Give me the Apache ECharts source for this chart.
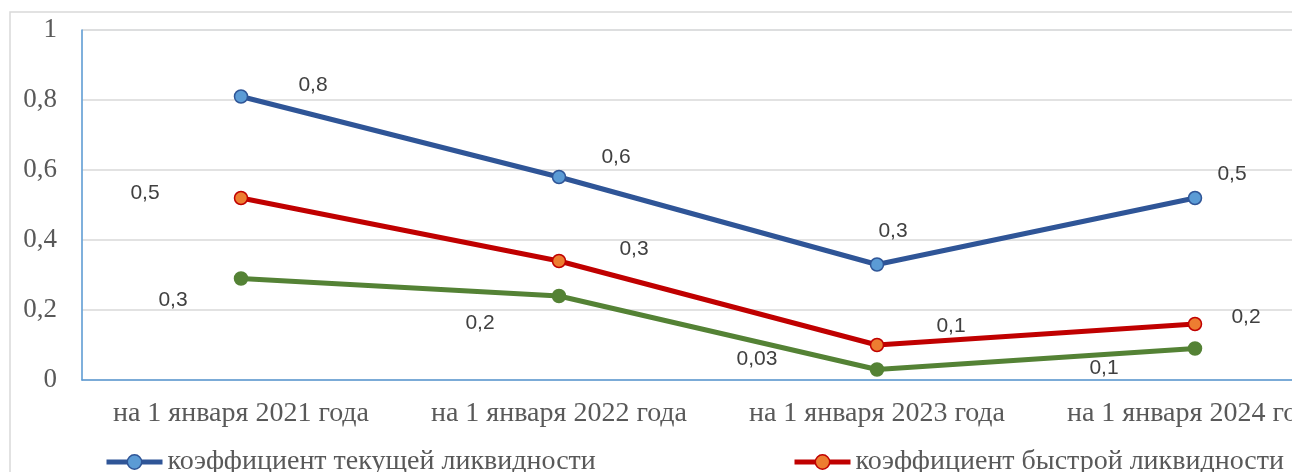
<!DOCTYPE html>
<html><head><meta charset="utf-8">
<script src="https://cdn.jsdelivr.net/npm/echarts@6/dist/echarts.min.js"></script>
<style>html,body{margin:0;padding:0;background:#fff;overflow:hidden}#c{width:1420px;height:472px}</style>
</head><body><div id="c"></div>
<script>
const categories = ['на 1 января 2021 года','на 1 января 2022 года','на 1 января 2023 года','на 1 января 2024 года'];
const seriesNames = ['коэффициент текущей ликвидности','коэффициент быстрой ликвидности','коэффициент абсолютной ликвидности'];
const currentRatio = [0.81, 0.58, 0.33, 0.52];
const quickRatio = [0.52, 0.34, 0.10, 0.16];
const absoluteRatio = [0.29, 0.24, 0.03, 0.09];
const currentLabels = ['0,8','0,6','0,3','0,5'];
const quickLabels = ['0,5','0,3','0,1','0,2'];
const absoluteLabels = ['0,3','0,2','0,03','0,1'];
const yTicks = {min:0, max:1, interval:0.2};

// label placement (layout, not data)
const labelOffsets = [
  [[72,-11],[57,-20],[16,-33],[37,-24]],
  [[-96,-5],[75,-12],[74,-19],[51,-7]],
  [[-68,22],[-79,27],[-120,-10],[-91,20]]
];
const styles = [
  {line:'#2F5597', fill:'#5B9BD5'},
  {line:'#C00000', fill:'#ED7D31'},
  {line:'#548235', fill:'#548235'}
];
const values = [currentRatio, quickRatio, absoluteRatio];
const labels = [currentLabels, quickLabels, absoluteLabels];

const series = values.map((vals, s) => ({
  name: seriesNames[s],
  type: 'line',
  data: vals.map((v, i) => ({
    value: v,
    label: {show: true, position: 'inside', offset: labelOffsets[s][i], formatter: () => labels[s][i]}
  })),
  symbol: 'circle',
  symbolSize: 13,
  lineStyle: {color: styles[s].line, width: 5},
  itemStyle: {color: styles[s].fill, borderColor: styles[s].line, borderWidth: 1.5},
  label: {color: '#404040', fontFamily: 'Liberation Sans', fontSize: 21},
  emphasis: {disabled: true},
  z: 3 + (2 - s)
}));

const legendText = {color: '#595959', fontFamily: 'Liberation Serif', fontSize: 28};
const legendCommon = {itemWidth: 56, itemHeight: 18, itemGap: 0, textStyle: legendText, padding: 0,
  lineStyle: {width: 5}, itemStyle: {borderWidth: 1.5}};
const chart = echarts.init(document.getElementById('c'), null, {renderer: 'canvas'});
chart.setOption({
  animation: false,
  backgroundColor: '#fff',
  graphic: [{type: 'rect', shape: {x: 10, y: 12, width: 1500, height: 600},
    style: {fill: 'none', stroke: '#D9D9D9', lineWidth: 1.5}, silent: true, z: -1}],
  grid: {left: 82, top: 30, bottom: 92, right: 66, show: true, borderColor: '#D6DCE5', borderWidth: 1},
  legend: [
    Object.assign({data: [seriesNames[0]], left: 104, top: 448}, legendCommon),
    Object.assign({data: [seriesNames[1]], left: 792, top: 448}, legendCommon),
    Object.assign({data: [seriesNames[2]], left: 104, top: 502}, legendCommon)
  ],
  xAxis: {
    type: 'category', data: categories, boundaryGap: true,
    axisLine: {lineStyle: {color: '#5B9BD5', width: 1.5}},
    axisTick: {show: false},
    axisLabel: {interval: 0, color: '#595959', fontFamily: 'Liberation Serif', fontSize: 28, margin: 20}
  },
  yAxis: {
    type: 'value', min: yTicks.min, max: yTicks.max, interval: yTicks.interval,
    axisLine: {show: true, lineStyle: {color: '#5B9BD5', width: 1.5}},
    axisTick: {show: false},
    splitLine: {lineStyle: {color: '#D9D9D9', width: 1.5}},
    axisLabel: {color: '#595959', fontFamily: 'Liberation Serif', fontSize: 27, margin: 25,
      formatter: v => String(Math.round(v * 10) / 10).replace('.', ',')}
  },
  series: series
});
</script></body></html>
